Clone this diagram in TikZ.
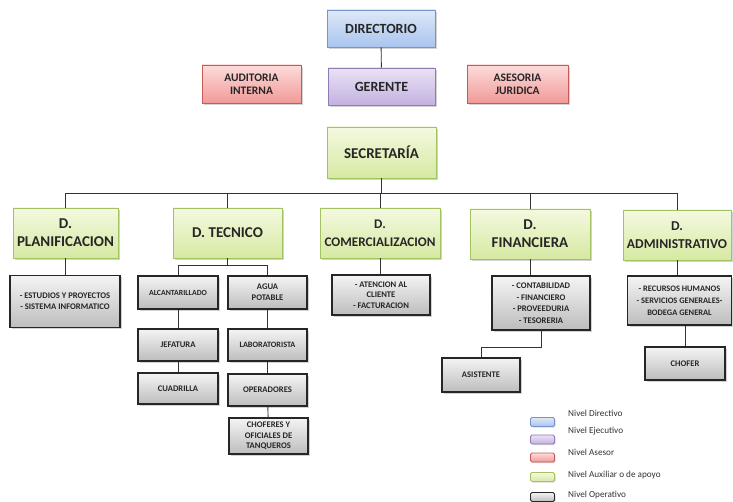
\documentclass[tikz,border=0pt]{standalone}
\usepackage{fontspec}
\setmainfont{Carlito}
\usetikzlibrary{shadows}

\definecolor{dirtop}{HTML}{DEE8F8}
\definecolor{dirbot}{HTML}{A9C4EE}
\definecolor{dirline}{HTML}{7394CC}
\definecolor{ejetop}{HTML}{EAE2F5}
\definecolor{ejebot}{HTML}{C3B1E0}
\definecolor{ejeline}{HTML}{8F7BB6}
\definecolor{asetop}{HTML}{FCDCDB}
\definecolor{asebot}{HTML}{F19A98}
\definecolor{aseline}{HTML}{C65A57}
\definecolor{auxtop}{HTML}{F4F9E0}
\definecolor{auxbot}{HTML}{D6E9A2}
\definecolor{auxline}{HTML}{A3C262}
\definecolor{opetop}{HTML}{F4F4F4}
\definecolor{opebot}{HTML}{BDBDBD}

\tikzset{
	nbox/.style={draw, line width=0.8pt, align=center, inner sep=1pt, text=black!85,
		drop shadow={shadow xshift=2pt, shadow yshift=-2pt, opacity=0.35}},
	directivo/.style={nbox, top color=dirtop, bottom color=dirbot, draw=dirline,
		font=\bfseries\fontsize{14}{15}\selectfont},
	ejecutivo/.style={nbox, top color=ejetop, bottom color=ejebot, draw=ejeline,
		font=\bfseries\fontsize{14}{15}\selectfont},
	asesor/.style={nbox, top color=asetop, bottom color=asebot, draw=aseline,
		font=\bfseries\fontsize{11.5}{13}\selectfont},
	auxiliar/.style={nbox, top color=auxtop, bottom color=auxbot, draw=auxline,
		font=\bfseries\fontsize{15}{18}\selectfont},
	operativo/.style={nbox, top color=opetop, bottom color=opebot, draw=black!85,
		line width=1.1pt, font=\bfseries\fontsize{8.6}{11}\selectfont},
	swatch/.style={draw, line width=0.8pt, rounded corners=1.5pt,
		minimum width=24pt, minimum height=9pt, inner sep=0pt,
		drop shadow={shadow xshift=1pt, shadow yshift=-1pt, opacity=0.3}},
	legtext/.style={anchor=west, font=\fontsize{9.2}{10}\selectfont, text=black!80, inner sep=0pt},
	link/.style={line width=0.9pt, draw=black!80}
}

\begin{document}
\begin{tikzpicture}[x=1pt, y=-1pt]
	%%%%% START %%%%%
	\useasboundingbox (0,0) rectangle (733,502);

	% alta direccion
	\node[directivo, minimum width=108pt, minimum height=37pt] (dir) at (381, 28.5) {DIRECTORIO};
	\node[ejecutivo, minimum width=107pt, minimum height=37pt] (ger) at (381.5, 86.5) {GERENTE};
	\node[asesor, minimum width=99pt, minimum height=38pt] (aud) at (251.5, 84) {AUDITORIA\\INTERNA};
	\node[asesor, minimum width=101pt, minimum height=38pt] (ase) at (517.5, 84) {ASESORIA\\JURIDICA};
	\node[auxiliar, minimum width=109pt, minimum height=51pt] (sec) at (381.5, 152.5) {SECRETARÍA};

	% departamentos
	\node[auxiliar, minimum width=105pt, minimum height=50pt] (plan) at (65.5, 233) {D.\\PLANIFICACION};
	\node[auxiliar, minimum width=109pt, minimum height=50pt] (tec) at (227.5, 233) {D. TECNICO};
	\node[auxiliar, minimum width=120pt, minimum height=50pt, font=\bfseries\fontsize{13.2}{18}\selectfont] (com) at (380, 233) {D.\\COMERCIALIZACION};
	\node[auxiliar, minimum width=120pt, minimum height=50pt] (fin) at (530, 234) {D.\\FINANCIERA};
	\node[auxiliar, minimum width=108pt, minimum height=50pt, font=\bfseries\fontsize{13.6}{18}\selectfont] (adm) at (677, 235) {D.\\ADMINISTRATIVO};

	% nivel operativo
	\node[operativo, minimum width=110pt, minimum height=52pt] (plansub) at (65, 301.5) {- ESTUDIOS Y PROYECTOS\\- SISTEMA INFORMATICO};
	\node[operativo, minimum width=80pt, minimum height=33pt, font=\bfseries\fontsize{7.8}{10}\selectfont] (alc) at (178, 292.5) {ALCANTARILLADO};
	\node[operativo, minimum width=79pt, minimum height=33pt] (agua) at (267.5, 292.5) {AGUA\\POTABLE};
	\node[operativo, minimum width=80pt, minimum height=32pt] (jef) at (178, 345) {JEFATURA};
	\node[operativo, minimum width=79pt, minimum height=32pt, font=\bfseries\fontsize{8.2}{10}\selectfont] (lab) at (267.5, 345) {LABORATORISTA};
	\node[operativo, minimum width=80pt, minimum height=31pt] (cua) at (178, 388.5) {CUADRILLA};
	\node[operativo, minimum width=79pt, minimum height=32pt] (ope) at (267.5, 390) {OPERADORES};
	\node[operativo, minimum width=79pt, minimum height=36pt, font=\bfseries\fontsize{8.6}{10.5}\selectfont] (cho) at (268.5, 436) {CHOFERES Y\\OFICIALES DE\\TANQUEROS};
	\node[operativo, minimum width=98pt, minimum height=40pt, font=\bfseries\fontsize{8.6}{10.5}\selectfont] (comsub) at (381, 295) {- ATENCION AL\\CLIENTE\\- FACTURACION};
	\node[operativo, minimum width=98pt, minimum height=54pt, font=\bfseries\fontsize{8.6}{11.5}\selectfont] (finsub) at (541, 303) {- CONTABILIDAD\\- FINANCIERO\\- PROVEEDURIA\\- TESORERIA};
	\node[operativo, minimum width=104pt, minimum height=49pt, font=\bfseries\fontsize{8.4}{12}\selectfont] (admsub) at (679.5, 300.5) {- RECURSOS HUMANOS\\- SERVICIOS GENERALES-\\BODEGA GENERAL};
	\node[operativo, minimum width=78pt, minimum height=34pt] (asi) at (481, 375) {ASISTENTE};
	\node[operativo, minimum width=80pt, minimum height=33pt] (chof) at (685, 363.5) {CHOFER};

	% conectores
	\coordinate (bus) at (0, 193);
	\coordinate (tbus) at (0, 265);
	\coordinate (fbus) at (0, 347);
	\draw[link] (dir) -- (ger);
	\draw[link] (sec.south) -- (sec.south |- bus);
	\draw[link] (plan.north) -- (plan.north |- bus) -- (adm.north |- bus) -- (adm.north);
	\foreach \d in {tec, com, fin}
		\draw[link] (\d.north) -- (\d.north |- bus);
	\foreach \d/\s in {plan/plansub, com/comsub, fin/finsub, adm/admsub}
		\draw[link] (\d.south) -- (\d.south |- \s.north);
	\draw[link] (tec.south) -- (tec.south |- tbus);
	\draw[link] (alc.north) -- (alc.north |- tbus) -- (agua.north |- tbus) -- (agua.north);
	\draw[link] (alc) -- (jef);
	\draw[link] (jef) -- (cua);
	\draw[link] (agua) -- (lab);
	\draw[link] (lab) -- (ope);
	\draw[link] (ope) -- (cho);
	\draw[link] (finsub.south) -- (finsub.south |- fbus) -- (asi.north |- fbus) -- (asi.north);
	\draw[link] (chof.north) -- (chof.north |- admsub.south);

	% leyenda
	\node[swatch, top color=dirtop, bottom color=dirbot, draw=dirline] (lgdir) at (542.5, 422) {};
	\node[swatch, top color=ejetop, bottom color=ejebot, draw=ejeline] (lgeje) at (542.5, 439.5) {};
	\node[swatch, top color=asetop, bottom color=asebot, draw=aseline] (lgase) at (542.5, 457.5) {};
	\node[swatch, top color=auxtop, bottom color=auxbot, draw=auxline] (lgaux) at (542.5, 477) {};
	\node[swatch, top color=opetop, bottom color=opebot, draw=black!85] (lgope) at (542.5, 497) {};
	\node[legtext] (txdir) at (568, 413) {Nivel Directivo};
	\node[legtext] (txeje) at (568, 431.5) {Nivel Ejecutivo};
	\node[legtext] (txase) at (568, 452.5) {Nivel Asesor};
	\node[legtext] (txaux) at (568, 475) {Nivel Auxiliar o de apoyo};
	\node[legtext] (txope) at (568, 495) {Nivel Operativo};

	%%%%% END %%%%%
\end{tikzpicture}
\end{document}
